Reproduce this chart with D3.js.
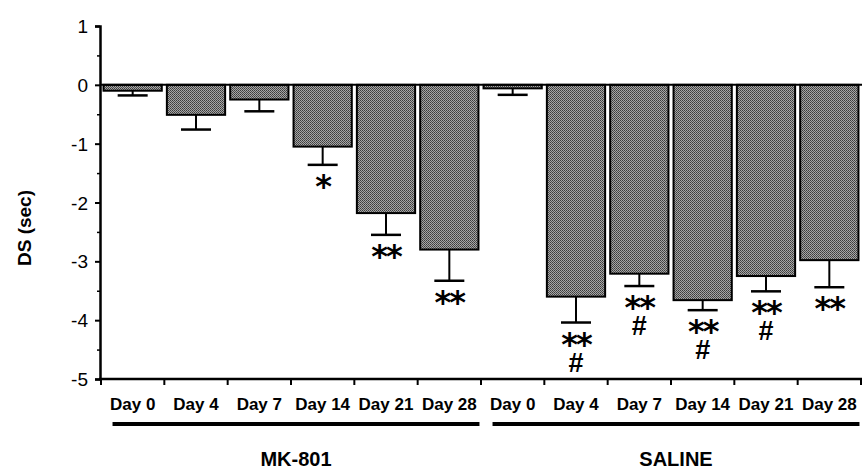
<!DOCTYPE html>
<html>
<head>
<meta charset="utf-8">
<script src="https://cdn.jsdelivr.net/npm/d3@7"></script>
<style>
  body { margin: 0; background: #fff; }
  text { font-family: "Liberation Sans", Arial, sans-serif; fill: #000; }
</style>
</head>
<body>
<svg width="867" height="471"></svg>
<script>
var days = ['Day 0', 'Day 4', 'Day 7', 'Day 14', 'Day 21', 'Day 28']
var groups = ['MK-801', 'SALINE']
var mk801Mean = [-0.1, -0.51, -0.25, -1.05, -2.18, -2.8]
var mk801Sem = [0.08, 0.25, 0.2, 0.31, 0.37, 0.53]
var salineMean = [-0.06, -3.6, -3.21, -3.66, -3.25, -2.98]
var salineSem = [0.11, 0.44, 0.21, 0.17, 0.26, 0.46]
var mk801Stars = ['', '', '', '*', '**', '**']
var salineStars = ['', '**', '**', '**', '**', '**']
var salineHash = ['', '#', '#', '#', '#', '']
var yTicks = [1, 0, -1, -2, -3, -4, -5]

var data = []
groups.forEach(function (g, gi) {
  days.forEach(function (d, i) {
    data.push({
      key: g + ' ' + d,
      group: g,
      day: d,
      mean: gi === 0 ? mk801Mean[i] : salineMean[i],
      sem: gi === 0 ? mk801Sem[i] : salineSem[i],
      stars: gi === 0 ? mk801Stars[i] : salineStars[i],
      hash: gi === 0 ? '' : salineHash[i]
    })
  })
})

var svg = d3.select('svg')

// stippled fill like the printed figure
var pat = svg.append('defs').append('pattern')
    .attr('id', 'stipple')
    .attr('width', 2)
    .attr('height', 2)
    .attr('patternUnits', 'userSpaceOnUse')
pat.append('rect').attr('width', 2).attr('height', 2).attr('fill', '#a6a6a6')
pat.append('rect').attr('width', 1).attr('height', 1).attr('fill', '#3c3c3c')
pat.append('rect').attr('x', 1).attr('y', 1).attr('width', 1).attr('height', 1).attr('fill', '#505050')

var x = d3.scaleBand()
    .domain(data.map(d => d.key))
    .range([101, 861])
    .paddingInner(0.08)
    .paddingOuter(0.04)

var y = d3.scaleLinear().domain([-5, 1]).range([379, 26])

// bars
svg.selectAll('.bar')
    .data(data)
  .enter().append('rect')
    .attr('class', 'bar')
    .attr('x', d => x(d.key))
    .attr('width', x.bandwidth())
    .attr('y', y(0))
    .attr('height', d => y(d.mean) - y(0))
    .attr('fill', 'url(#stipple)')
    .attr('stroke', '#000')
    .attr('stroke-width', 2)

// error bars
var err = svg.selectAll('.err')
    .data(data)
  .enter().append('g')
    .attr('class', 'err')
    .attr('transform', d => 'translate(' + (x(d.key) + x.bandwidth() / 2) + ',0)')

err.append('line')
    .attr('y1', d => y(d.mean))
    .attr('y2', d => y(d.mean - d.sem))
    .attr('stroke', '#000')
    .attr('stroke-width', 2)

err.append('line')
    .attr('x1', -15)
    .attr('x2', 15)
    .attr('y1', d => y(d.mean - d.sem))
    .attr('y2', d => y(d.mean - d.sem))
    .attr('stroke', '#000')
    .attr('stroke-width', 2.5)

// significance marks: stars with a # below, one text each
var sig = err.filter(d => d.stars).append('text')
    .attr('text-anchor', 'middle')

sig.append('tspan')
    .attr('x', 0)
    .attr('y', d => y(d.mean - d.sem) + 32)
    .style('font-family', '"DejaVu Sans", sans-serif')
    .style('font-weight', 'bold')
    .style('font-size', '32px')
    .style('letter-spacing', '-2px')
    .text(d => d.stars)

sig.filter(d => d.hash).append('tspan')
    .attr('x', 0)
    .attr('y', d => y(d.mean - d.sem) + 49)
    .style('font-size', '27px')
    .style('font-weight', 'bold')
    .text(d => d.hash)

// zero line
svg.append('line')
    .attr('x1', 100)
    .attr('x2', 862)
    .attr('y1', y(0))
    .attr('y2', y(0))
    .attr('stroke', '#000')
    .attr('stroke-width', 2)

// y axis
var yAxis = svg.append('g')
    .attr('transform', 'translate(100,0)')
    .call(d3.axisLeft(y).tickValues(yTicks).tickSize(5).tickPadding(7).tickFormat(d => String(d)))
yAxis.select('.domain').attr('stroke-width', 2.5)
yAxis.selectAll('.tick line').attr('stroke-width', 2)
yAxis.selectAll('.tick text')
    .style('font-size', '19px')
    .style('font-family', '"Liberation Sans", Arial, sans-serif')
    .attr('dy', '0.35em')

svg.append('g')
    .attr('transform', 'translate(100,0)')
    .call(d3.axisLeft(y).tickValues(d3.range(-4.5, 1, 1)).tickSize(3).tickFormat(''))
    .call(g => g.select('.domain').remove())
    .selectAll('line').attr('stroke-width', 1.5)

// x axis
var bounds = data.map(d => x(d.key) - x.step() * x.paddingInner() / 2)
bounds.push(861)
var xAxis = svg.append('g')
    .attr('transform', 'translate(0,' + y(-5) + ')')
xAxis.append('line')
    .attr('x1', 99)
    .attr('x2', 862)
    .attr('stroke', '#000')
    .attr('stroke-width', 2.5)
xAxis.selectAll('.xt')
    .data(bounds)
  .enter().append('line')
    .attr('x1', d => d)
    .attr('x2', d => d)
    .attr('y2', 6)
    .attr('stroke', '#000')
    .attr('stroke-width', 2)

svg.selectAll('.daylabel')
    .data(data)
  .enter().append('text')
    .attr('x', d => x(d.key) + x.bandwidth() / 2)
    .attr('y', 410)
    .attr('text-anchor', 'middle')
    .style('font-size', '17px')
    .style('font-weight', 'bold')
    .text(d => d.day)

// group brackets
groups.forEach(function (g) {
  var keys = data.filter(d => d.group === g).map(d => d.key)
  var x0 = x(keys[0]) + 9
  var x1 = x(keys[keys.length - 1]) + x.bandwidth() + 1
  svg.append('line')
      .attr('x1', x0)
      .attr('x2', x1)
      .attr('y1', 424)
      .attr('y2', 424)
      .attr('stroke', '#000')
      .attr('stroke-width', 4)
  svg.append('text')
      .attr('x', (x0 + x1) / 2)
      .attr('y', 466)
      .attr('text-anchor', 'middle')
      .style('font-size', '20px')
      .style('font-weight', 'bold')
      .text(g)
})

svg.append('text')
    .attr('transform', 'translate(31,228) rotate(-90)')
    .attr('text-anchor', 'middle')
    .style('font-size', '19px')
    .style('font-weight', 'bold')
    .text('DS (sec)')
</script>
</body>
</html>
